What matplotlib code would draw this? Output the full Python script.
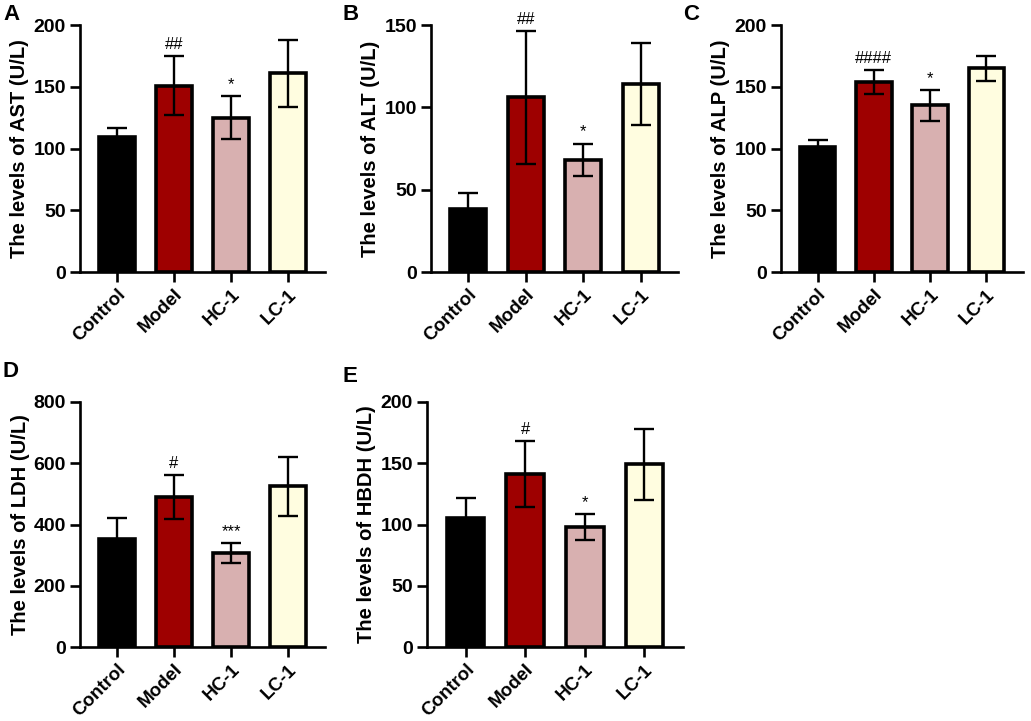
import numpy as np
import matplotlib
matplotlib.use("Agg")
import matplotlib.pyplot as plt

plt.rcParams['font.family'] = ['Liberation Sans', 'DejaVu Sans']

groups = ['Control', 'Model', 'HC-1', 'LC-1']
colors = ['#000000', '#9e0000', '#d8b0b0', '#fffde0']

# values (mean, error)
ast_mean = [109.5, 151, 125, 161]
ast_err = [7.5, 24, 17.5, 27]
alt_mean = [38.5, 106, 68, 114]
alt_err = [9.2, 40.5, 10, 25]
alp_mean = [101, 154, 135, 165]
alp_err = [6, 9.5, 12.5, 10]
ldh_mean = [353, 489, 306, 525]
ldh_err = [67, 72, 33, 96]
hbdh_mean = [105, 141, 97.7, 149]
hbdh_err = [17, 27, 10.5, 29]

panels = [
    ('A', ast_mean, ast_err, 'The levels of AST (U/L)', 200, 50, ['', '##', '*', '']),
    ('B', alt_mean, alt_err, 'The levels of ALT (U/L)', 150, 50, ['', '##', '*', '']),
    ('C', alp_mean, alp_err, 'The levels of ALP (U/L)', 200, 50, ['', '####', '*', '']),
    ('D', ldh_mean, ldh_err, 'The levels of LDH (U/L)', 800, 200, ['', '#', '***', '']),
    ('E', hbdh_mean, hbdh_err, 'The levels of HBDH (U/L)', 200, 50, ['', '#', '*', '']),
]

# axes boxes in pixels: left, right, top, bottom
boxes = [(80, 325, 25, 272), (431, 678, 25, 272), (781, 1023, 25, 272),
         (80, 325, 402, 647), (427, 683, 402, 647)]
# panel letter positions in pixels (x, y top)
letter_pos = [(3, 4), (343, 4), (683, 4), (3, 361), (342, 366)]

W, H = 1031, 721
fig = plt.figure(figsize=(W / 100, H / 100), dpi=100)

for (letter, mean, err, ylab, ymax, step, marks), (l, r, t, b), (lx, ly) in zip(panels, boxes, letter_pos):
    ax = fig.add_axes([l / W, 1 - b / H, (r - l) / W, (b - t) / H])
    x = np.arange(len(groups))
    ax.bar(x, mean, width=0.63, color=colors, edgecolor='black', linewidth=2.6, zorder=2)
    ax.errorbar(x, mean, yerr=err, fmt='none', ecolor='black', elinewidth=1.7,
                capsize=7, capthick=1.7, zorder=3)
    for xi, m, e, s in zip(x, mean, err, marks):
        if s:
            ax.annotate(s, (xi, m + e), xytext=(0, 3), textcoords='offset points',
                        ha='center', va='bottom', fontsize=12)
    ax.set_xlim(-0.65, 3.65)
    ax.set_ylim(0, ymax)
    ax.set_yticks(np.arange(0, ymax + 1, step))
    ax.set_xticks(x)
    ax.set_xticklabels(groups, rotation=45, ha='right', rotation_mode='anchor',
                       fontsize=13.5, fontweight='bold')
    for lb in ax.get_yticklabels():
        lb.set_fontsize(14)
        lb.set_fontweight('bold')
    ax.set_ylabel(ylab, fontsize=14.5, fontweight='bold', labelpad=3)
    for sp in ['top', 'right']:
        ax.spines[sp].set_visible(False)
    for sp in ['left', 'bottom']:
        ax.spines[sp].set_linewidth(1.9)
    ax.tick_params(axis='both', width=1.9, length=7, direction='out', pad=3)
    fig.text(lx / W, 1 - ly / H, letter, fontsize=16, fontweight='bold',
             ha='left', va='top')

fig.savefig('out.png', dpi=100)
